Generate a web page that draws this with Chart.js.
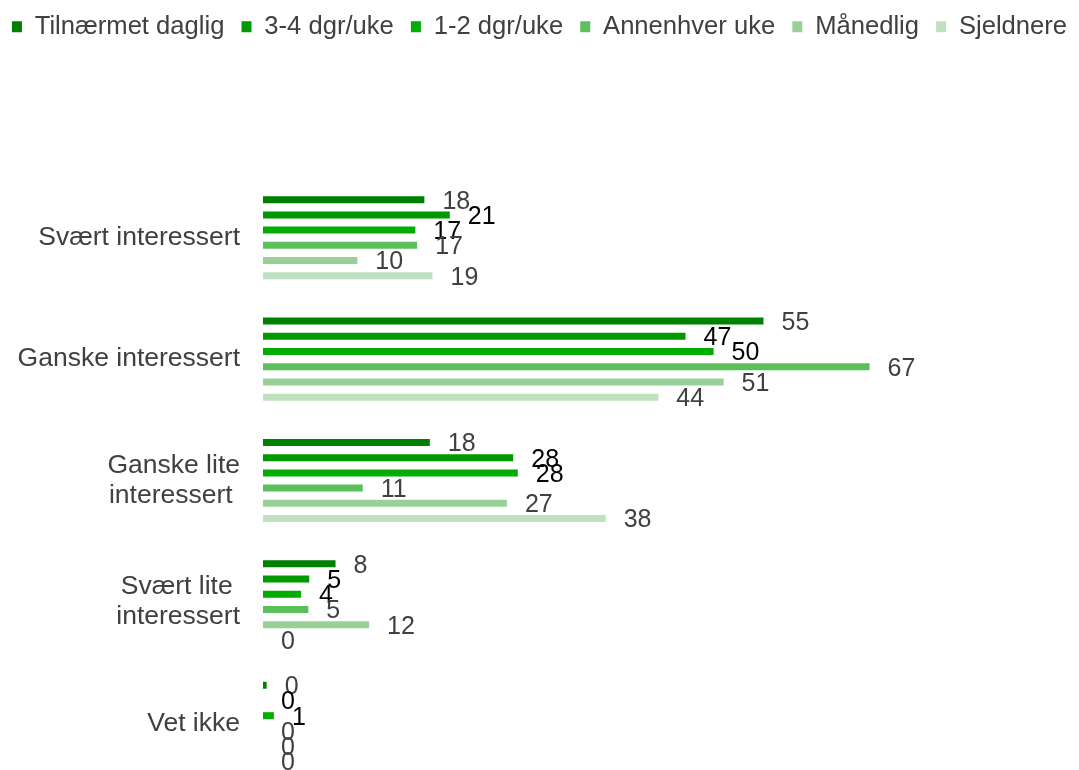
<!DOCTYPE html>
<html lang="no">
<head>
    <meta charset="UTF-8">
    <title>Interesse</title>
    <script src="https://cdn.jsdelivr.net/npm/chart.js"></script>
    <style>
        html, body { margin: 0; padding: 0; overflow: hidden; background: #fff; }
        .chart-box { position: relative; width: 1079px; height: 784px; }
    </style>
</head>
<body>

<div class="chart-box">
    <canvas id="interestChart"></canvas>
</div>

<script>
    // Categories (y axis) and series names (legend)
    const categories = [
        "Svært interessert",
        "Ganske interessert",
        ["Ganske lite", "interessert "],
        ["Svært lite ", "interessert"],
        "Vet ikke"
    ];
    const seriesNames = ["Tilnærmet daglig", "3-4 dgr/uke", "1-2 dgr/uke", "Annenhver uke", "Månedlig", "Sjeldnere"];

    // Values in percent (labels show them rounded)
    const dagligValues     = [17.8, 55.2, 18.4, 8.0, 0.4];
    const treFireValues    = [20.6, 46.6, 27.6, 5.1, 0];
    const enToValues       = [16.8, 49.7, 28.1, 4.2, 1.2];
    const annenhverValues  = [17.0, 66.9, 11.0, 5.0, 0];
    const maanedligValues  = [10.4, 50.8, 26.9, 11.7, 0];
    const sjeldnereValues  = [18.7, 43.6, 37.8, 0, 0];

    const seriesColors = ["#008000", "#009900", "#00AD00", "#5BBF5B", "#98D098", "#BFE1BF"];
    const labelColors  = ["#404040", "#000000", "#000000", "#404040", "#404040", "#404040"];

    const allValues = [dagligValues, treFireValues, enToValues, annenhverValues, maanedligValues, sjeldnereValues];

    // Value labels right of each bar end
    const valueLabels = {
        id: "valueLabels",
        afterDatasetsDraw(chart) {
            let ctx = chart.ctx;
            ctx.save();
            ctx.font = "25px 'Liberation Sans', Arial, sans-serif";
            ctx.textAlign = "left";
            ctx.textBaseline = "middle";
            chart.data.datasets.forEach((ds, i) => {
                let meta = chart.getDatasetMeta(i);
                ctx.fillStyle = labelColors[i];
                meta.data.forEach((bar, j) => {
                    ctx.fillText(String(Math.round(ds.data[j])), bar.x + 18, bar.y + 2);
                });
            });
            ctx.restore();
        }
    };

    const ctx = document.getElementById("interestChart").getContext("2d");

    new Chart(ctx, {
        type: "bar",
        data: {
            labels: categories,
            datasets: seriesNames.map((name, i) => ({
                label: name,
                data: allValues[i],
                backgroundColor: seriesColors[i],
                borderWidth: 0,
                barPercentage: 0.46,
                categoryPercentage: 0.752
            }))
        },
        options: {
            indexAxis: "y",
            responsive: true,
            maintainAspectRatio: false,
            animation: false,
            layout: { padding: { top: 4 } },
            plugins: {
                legend: {
                    position: "top",
                    labels: {
                        boxWidth: 10,
                        boxHeight: 11,
                        padding: 10,
                        color: "#404040",
                        font: { family: "'Liberation Sans', Arial, sans-serif", size: 25.6 },
                        // a little extra room after each entry, as in the original legend
                        generateLabels: (chart) => {
                            let items = Chart.defaults.plugins.legend.labels.generateLabels(chart);
                            items.forEach((item, i) => {
                                if (i < items.length - 1) item.text = item.text + " ";
                            });
                            return items;
                        }
                    }
                },
                tooltip: { enabled: false }
            },
            scales: {
                x: {
                    position: "top",
                    min: 0,
                    max: 90,
                    grid: { display: false },
                    border: { display: false },
                    ticks: { display: false },
                    afterFit: (axis) => {
                        axis.height = 177 - axis.chart.legend.height - 4;
                    }
                },
                y: {
                    grid: { display: false, drawTicks: false },
                    border: { display: false },
                    ticks: {
                        padding: 23,
                        color: "#404040",
                        font: { family: "'Liberation Sans', Arial, sans-serif", size: 26.5, lineHeight: 1.15 }
                    },
                    afterFit: (axis) => {
                        axis.width = 263;
                        axis.paddingTop = 0;
                        axis.paddingBottom = 0;
                    }
                }
            }
        },
        plugins: [valueLabels]
    });
</script>

</body>
</html>
